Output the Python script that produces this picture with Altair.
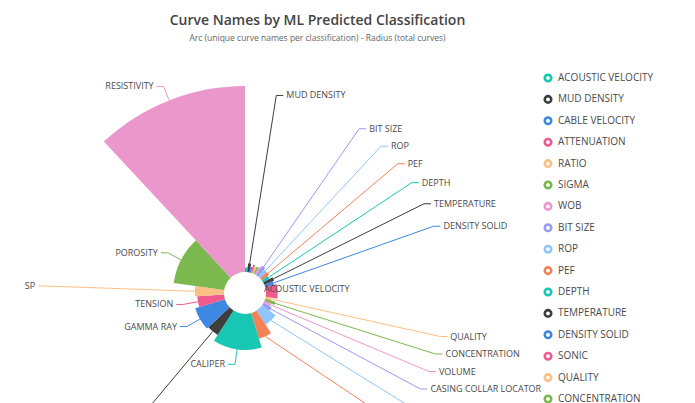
import math
import altair as alt
import pandas as pd

# ---------------- data ----------------
names = [
    "ACOUSTIC VELOCITY", "MUD DENSITY", "CABLE VELOCITY", "ATTENUATION", "RATIO",
    "SIGMA", "WOB", "BIT SIZE", "ROP", "PEF", "DEPTH", "TEMPERATURE",
    "DENSITY SOLID", "SONIC", "QUALITY", "CONCENTRATION", "VOLUME",
    "CASING COLLAR LOCATOR", "DENSITY CORRECTION", "DENSITY", "CALIPER",
    "NEUTRON", "GAMMA RAY", "TENSION", "SP", "POROSITY", "RESISTIVITY",
]
unique_names = [6, 6, 4, 4, 4, 4, 4, 7, 7, 7, 7, 7, 7, 26, 6, 6, 6, 8,
                21, 16, 50, 14, 26, 13, 12, 39, 43]
total_curves = [120, 230, 150, 220, 180, 200, 230, 290, 240, 240, 190, 280, 240, 310, 160,
                280, 180, 240, 440, 700, 940, 760, 810, 700, 760, 1330, 4850]
hidden_labels = ["CABLE VELOCITY", "ATTENUATION", "RATIO", "SIGMA", "WOB", "SONIC"]
inner_labels = ["ACOUSTIC VELOCITY"]
outer_labels = ["SP", "NEUTRON"]
palette = ["#17c7b4", "#3e3e3e", "#3d88e1", "#ef5b8c", "#fcbf84",
           "#7bb94f", "#ec97cb", "#9a9af2", "#8ec5fb", "#f58159"]
colors = [palette[i % len(palette)] for i in range(len(names))]

title_text = "Curve Names by ML Predicted Classification"
subtitle_text = "Arc (unique curve names per classification) - Radius (total curves)"

# ---------------- geometry / layout parameters ----------------
W, H = 679, 345
PAD_TOP = 60
CX, CY = 237, 225          # pie centre inside the plot
R_IN, R_OUT = 21, 207      # inner hole and max outer radius
LABEL_LEN = 15             # left-side label distance beyond the slice
R_LABEL_OUTER = 200        # outer label circle
LABEL_Y_MAX = 356          # lowest allowed label row (bottom of the original chart)
ELBOW = 7
GAP = 17.5
LEG_X, LEG_Y0, LEG_STEP = 540, 10, 21.4

T_MAX = max(total_curves)
U_SUM = sum(unique_names)

df = pd.DataFrame({
    "name": names,
    "unique": unique_names,
    "total": total_curves,
    "idx": list(range(len(names))),
})

color_scale = alt.Scale(domain=names, range=colors)


def radius_px(v):
    return R_IN + (R_OUT - R_IN) * v / T_MAX


# label layout computed from the data (mid-angle of each slice)
items = []
cum = 0
for i, n in enumerate(names):
    a0 = cum / U_SUM * 2 * math.pi
    cum += unique_names[i]
    a1 = cum / U_SUM * 2 * math.pi
    am = (a0 + a1) / 2
    r = radius_px(total_curves[i])
    side = "right" if math.sin(am) >= 0 else "left"
    outer = side == "right" or n in outer_labels
    L = R_LABEL_OUTER if outer else r + LABEL_LEN
    items.append(dict(
        name=n, am=am, r=r, outer=outer,
        ax=CX + r * math.sin(am), ay=CY - r * math.cos(am),
        lx=CX + L * math.sin(am), ly=CY - L * math.cos(am),
        side=side,
    ))


def spread(group, y_max=None):
    group.sort(key=lambda d: d["ly"])
    ys = [d["ly"] for d in group]
    for _ in range(2000):
        moved = False
        for j in range(1, len(ys)):
            deficit = GAP - (ys[j] - ys[j - 1])
            if deficit > 0.01:
                ys[j - 1] -= deficit / 2
                ys[j] += deficit / 2
                moved = True
        if not moved:
            break
    if y_max is not None and ys:
        ys[-1] = min(ys[-1], y_max)
        for j in range(len(ys) - 2, -1, -1):
            ys[j] = min(ys[j], ys[j + 1] - GAP)
    for d, y in zip(group, ys):
        d["py"] = y


laid = [d for d in items if d["name"] not in hidden_labels + inner_labels]
right = [d for d in laid if d["side"] == "right"]
left_inner = [d for d in laid if d["side"] == "left" and not d["outer"]]
left_outer = [d for d in laid if d["side"] == "left" and d["outer"]]
spread(right, LABEL_Y_MAX)
spread(left_inner)
spread(left_outer)

for d in right:
    dy = d["py"] - CY
    d["px"] = CX + math.sqrt(max(0.0, R_LABEL_OUTER ** 2 - dy ** 2))
    d["ex"] = d["px"] + ELBOW
    d["tx"] = d["ex"] + 3
for d in left_inner + left_outer:
    d["px"] = d["lx"]
    d["ex"] = d["px"] - ELBOW
    d["tx"] = d["ex"] - 3

line_rows, text_rows = [], []
for d in laid:
    line_rows += [
        {"name": d["name"], "seq": 0, "x": d["ax"], "y": d["ay"]},
        {"name": d["name"], "seq": 1, "x": d["px"], "y": d["py"]},
        {"name": d["name"], "seq": 2, "x": d["ex"], "y": d["py"]},
    ]
    text_rows.append({"name": d["name"], "x": d["tx"], "y": d["py"], "side": d["side"]})
for d in items:
    if d["name"] in inner_labels:
        # label drawn right beside the hole, next to its slice
        text_rows.append({"name": d["name"], "x": CX + R_IN - 2, "y": CY - 4, "side": "right"})
lines_df = pd.DataFrame(line_rows)
text_df = pd.DataFrame(text_rows)

# ---------------- chart ----------------
arcs = alt.Chart(df).transform_window(
    cum="sum(unique)", sort=[alt.SortField("idx")], frame=[None, 0]
).transform_calculate(
    start="datum.cum - datum.unique"
).mark_arc(innerRadius=R_IN).encode(
    theta=alt.Theta("start:Q", scale=alt.Scale(domain=[0, U_SUM], range=[0, 2 * math.pi], zero=True)),
    theta2="cum:Q",
    radius=alt.Radius("total:Q", scale=alt.Scale(type="linear", domain=[0, T_MAX],
                                                  range=[R_IN, R_OUT], zero=True)),
    color=alt.Color("name:N", scale=color_scale, legend=None),
    x=alt.value(CX),
    y=alt.value(CY),
)

leaders = alt.Chart(lines_df).mark_line(strokeWidth=1, clip=True).encode(
    x=alt.X("x:Q", scale=None, axis=None),
    y=alt.Y("y:Q", scale=None, axis=None),
    detail="name:N",
    order="seq:Q",
    stroke=alt.Stroke("name:N", scale=color_scale, legend=None),
)

label_font = dict(font="Open Sans", fontSize=9, color="#4a4a4a", baseline="middle", clip=True)
labels_r = alt.Chart(text_df).transform_filter(alt.datum.side == "right").mark_text(
    align="left", **label_font).encode(
    x=alt.X("x:Q", scale=None, axis=None),
    y=alt.Y("y:Q", scale=None, axis=None),
    text="name:N",
)
labels_l = alt.Chart(text_df).transform_filter(alt.datum.side == "left").mark_text(
    align="right", **label_font).encode(
    x=alt.X("x:Q", scale=None, axis=None),
    y=alt.Y("y:Q", scale=None, axis=None),
    text="name:N",
)

leg_y = alt.Y("name:N", axis=None,
              scale=alt.Scale(type="point", domain=names, padding=0,
                              range=[LEG_Y0, LEG_Y0 + (len(names) - 1) * LEG_STEP]))
leg_sym = alt.Chart(df).mark_point(shape="circle", filled=False, size=42,
                                   strokeWidth=2.6, clip=True, opacity=1).encode(
    x=alt.value(LEG_X),
    y=leg_y,
    stroke=alt.Stroke("name:N", scale=color_scale, legend=None),
)
leg_txt = alt.Chart(df).mark_text(align="left", baseline="middle", dx=10, font="Open Sans",
                                  fontSize=10, color="#4a4a4a", clip=True).encode(
    x=alt.value(LEG_X),
    y=leg_y,
    text="name:N",
)

chart = alt.layer(arcs, leaders, labels_r, labels_l, leg_sym, leg_txt).resolve_scale(
    x="independent", y="independent"
).properties(
    width=W,
    height=H,
    autosize=alt.AutoSizeParams(type="none"),
    padding={"left": 0, "right": 0, "top": PAD_TOP, "bottom": 0},
    title=alt.TitleParams(
        text=title_text,
        subtitle=subtitle_text,
        anchor="middle",
        frame="group",
        dx=-30,
        offset=26,
        font="Open Sans",
        fontSize=14,
        fontWeight=600,
        color="#444444",
        subtitleFont="Open Sans",
        subtitleFontSize=8.5,
        subtitleColor="#666666",
        subtitlePadding=6,
    ),
).configure_view(stroke=None)

chart.save("out.html", embed_options={"renderer": "svg", "actions": False})
